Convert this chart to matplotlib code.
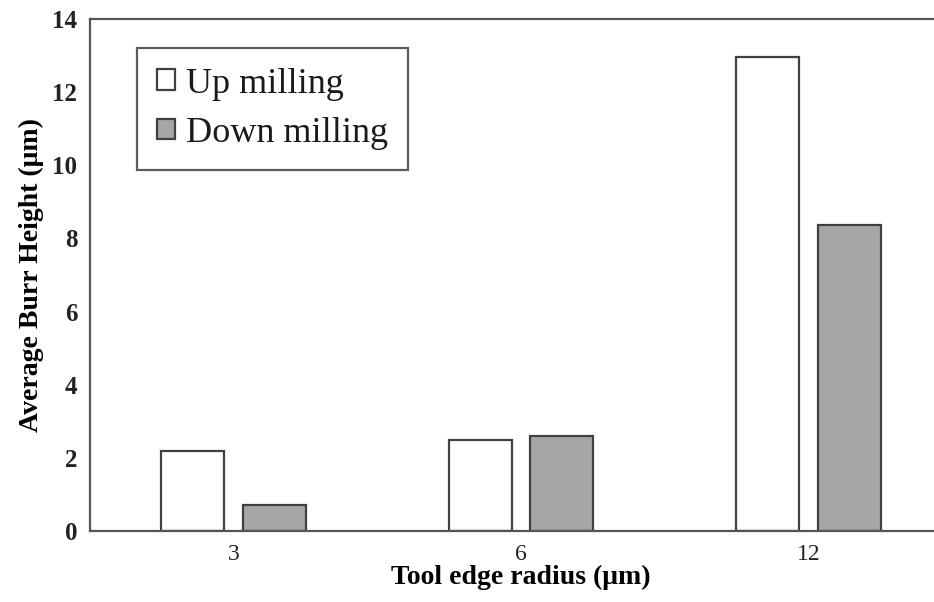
"""Average burr height vs tool edge radius, up vs down milling."""
import matplotlib
matplotlib.use("Agg")
import matplotlib.pyplot as plt
import numpy as np

categories = ["3", "6", "12"]
up_milling = [2.2, 2.48, 12.97]
down_milling = [0.7, 2.6, 8.37]
series_labels = ["Up milling", "Down milling"]

EDGE = "#404040"
GRAY = "#a6a6a6"


def main():
    plt.rcParams["font.family"] = ["Liberation Serif", "DejaVu Serif"]

    fig = plt.figure(figsize=(9.34, 6.02), dpi=100)
    # right side of the frame runs off the picture, as in the original
    ax = fig.add_axes([90 / 934, 1 - 531 / 602, 862 / 934, 512 / 602])

    x = np.arange(len(categories))
    width = 0.22
    offset = 0.142
    ax.bar(x - offset, up_milling, width, color="white", edgecolor=EDGE,
           linewidth=1.6, label=series_labels[0])
    ax.bar(x + offset, down_milling, width, color=GRAY, edgecolor=EDGE,
           linewidth=1.6, label=series_labels[1])

    ax.set_xlim(-0.5, len(categories) - 0.5)
    ax.set_ylim(0, 14)
    ax.set_yticks(np.arange(0, 15, 2))
    ax.set_xticks(x)
    ax.set_xticklabels(categories, fontsize=17)
    for lab in ax.get_yticklabels():
        lab.set_fontsize(18)
        lab.set_fontweight("bold")
    ax.tick_params(length=0, pad=9, colors="#222222")
    ax.tick_params(axis="x", pad=9)

    for side in ("left", "bottom", "top", "right"):
        ax.spines[side].set_color("#555555")
        ax.spines[side].set_linewidth(1.6)

    ax.set_xlabel("Tool edge radius (μm)", fontsize=20, fontweight="bold",
                  labelpad=0)
    ax.set_ylabel("Average Burr Height (μm)", fontsize=20, fontweight="bold",
                  labelpad=6)

    leg = ax.legend(loc="upper left", bbox_to_anchor=(0.055, 0.944),
                    fontsize=26, frameon=True, fancybox=False,
                    handlelength=0.5, handleheight=0.5, handletextpad=0.3,
                    borderpad=0.55, labelspacing=0.45, borderaxespad=0)
    leg.get_frame().set_edgecolor("#333333")
    leg.get_frame().set_linewidth(1.6)
    for txt in leg.get_texts():
        txt.set_color("#1a1a1a")

    fig.savefig("out.png", dpi=100)


if __name__ == "__main__":
    main()
